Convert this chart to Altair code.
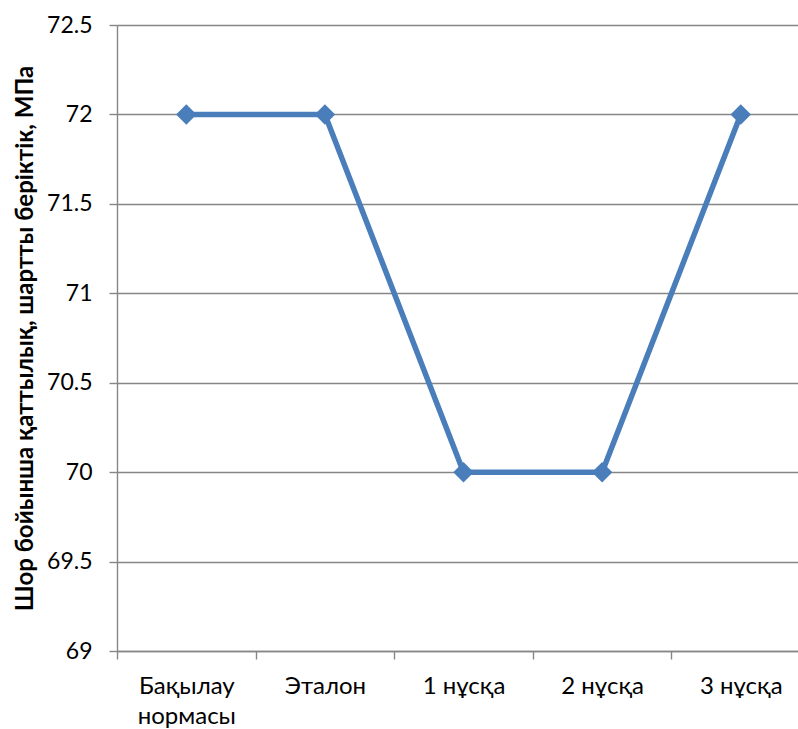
import json
import altair as alt
import pandas as pd

# Hardness values per sample (MPa)
categories = ["Бақылау\nнормасы", "Эталон", "1 нұсқа", "2 нұсқа", "3 нұсқа"]
values = [72, 72, 70, 70, 72]

y_ticks = [69, 69.5, 70, 70.5, 71, 71.5, 72, 72.5]
x_ticks = [-0.5, 0, 0.5, 1, 1.5, 2, 2.5, 3, 3.5, 4]

df = pd.DataFrame({"idx": list(range(len(categories))), "value": values})

LINE = "#4A7EBB"
GRID = "#868686"
FONT = "Lato"

label_lines = json.dumps([c.split("\n") for c in categories], ensure_ascii=False)
x_label_expr = f"datum.value % 1 == 0 ? {label_lines}[datum.value] : ''"

x_enc = alt.X(
    "idx:Q",
    scale=alt.Scale(domain=[-0.5, 4.413], nice=False, zero=False),
    axis=alt.Axis(
        values=x_ticks,
        labelExpr=x_label_expr,
        title=None,
        grid=False,
        domainColor=GRID,
        domainWidth=1.4,
        tickColor={"condition": {"test": "datum.value % 1 == 0", "value": "transparent"}, "value": GRID},
        tickSize=8,
        tickWidth=1.4,
        labelFont=FONT,
        labelFontSize=24,
        labelColor="#000000",
        labelPadding=15,
        labelLineHeight=30,
        labelFlush=False,
        labelOverlap=False,
        labelBound=False,
    ),
)

y_enc = alt.Y(
    "value:Q",
    scale=alt.Scale(domain=[69, 72.5], nice=False, zero=False),
    axis=alt.Axis(
        values=y_ticks,
        format=".1~f",
        title="Шор бойынша қаттылық, шартты беріктік, МПа",
        titleFont=FONT,
        titleFontSize=24,
        titleFontWeight="bold",
        titleColor="#000000",
        titleAngle=270,
        titleAlign="center",
        titleBaseline="alphabetic",
        titleX=-85,
        titleY=313,
        grid=True,
        gridColor=GRID,
        gridWidth=1.4,
        domainColor=GRID,
        domainWidth=1.4,
        tickColor=GRID,
        tickSize=8,
        tickWidth=1.4,
        labelFont=FONT,
        labelFontSize=23,
        labelColor="#000000",
        labelPadding=17,
        labelFlush=False,
    ),
)

base = alt.Chart(df).encode(x=x_enc, y=y_enc)

line = base.mark_line(color=LINE, strokeWidth=5.5)
points = base.mark_point(shape="diamond", filled=True, size=420, color=LINE, opacity=1)

chart = (
    alt.layer(line, points)
    .properties(
        width=681,
        height=626,
        autosize="none",
        padding={"left": 117, "top": 25, "right": 0, "bottom": 78},
        background="white",
    )
    .configure_view(strokeWidth=0)
)

chart.save("out.html", embed_options={"renderer": "svg", "actions": False})
